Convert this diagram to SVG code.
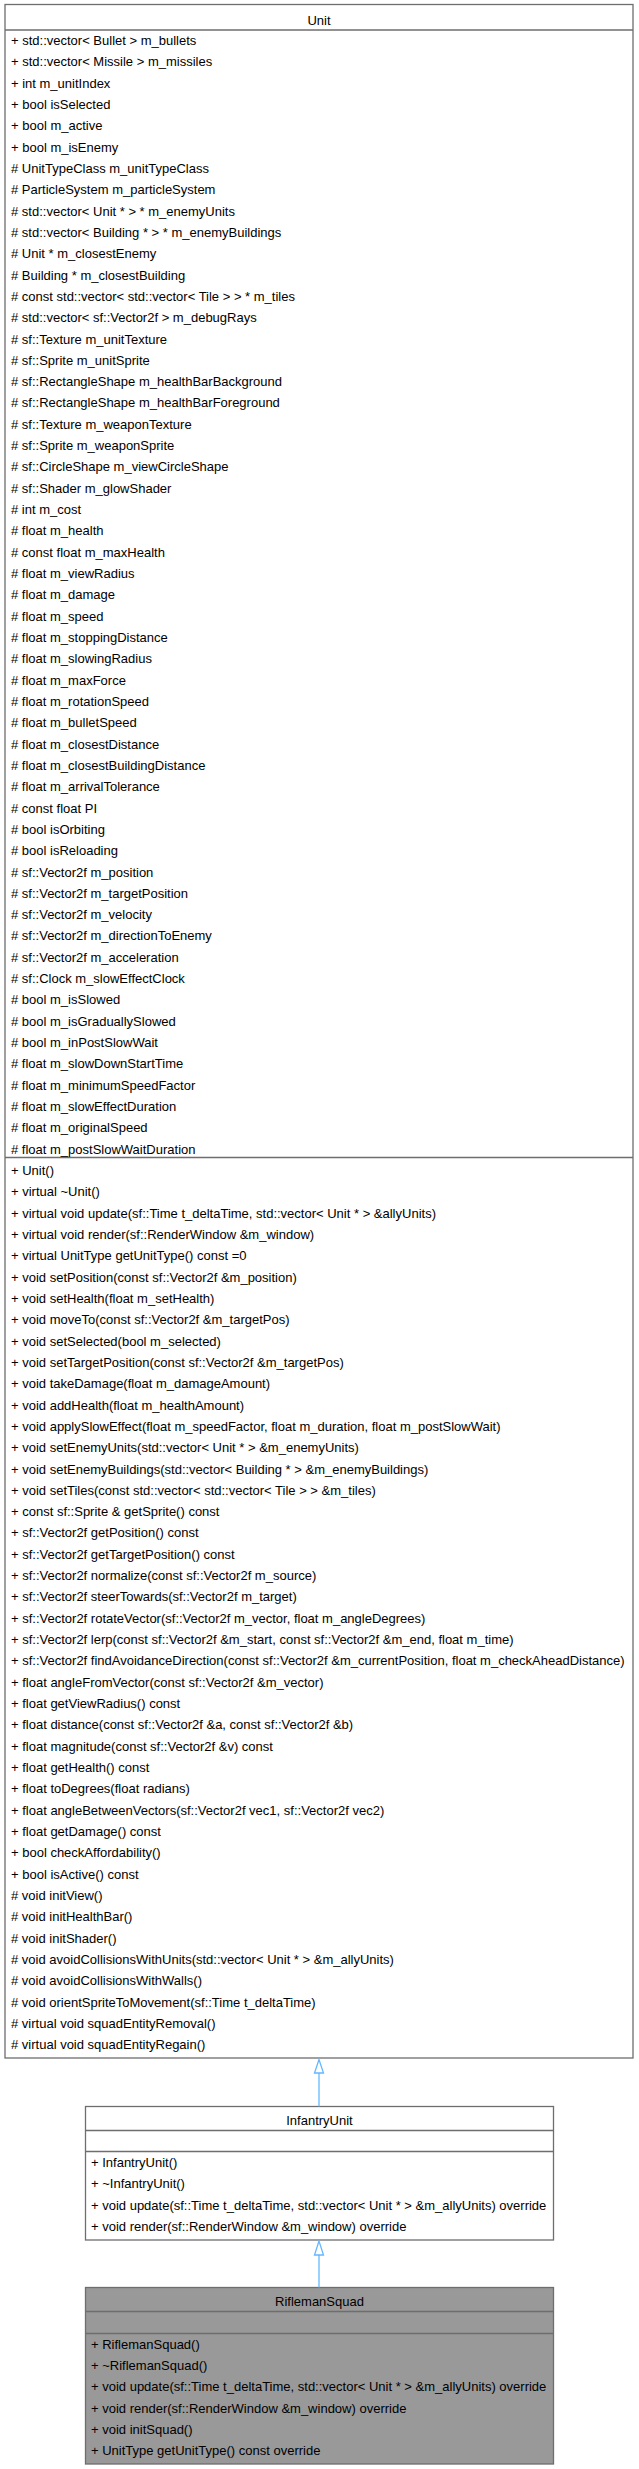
<svg xmlns="http://www.w3.org/2000/svg" width="639" height="2469" viewBox="0 0 639 2469">
<style>
.bg{fill:#ffffff}
.box{fill:#ffffff;stroke:#6e6e6e;stroke-width:1.3}
.cur{fill:#999999;stroke:#6e6e6e;stroke-width:1.3}
.sep{stroke:#6e6e6e;stroke-width:1.3;fill:none}
.t{font-family:"Liberation Sans",Arial,Helvetica,sans-serif;font-size:13px;fill:#000000}
.title{text-anchor:middle}
.edge{stroke:#63b8ff;stroke-width:1.3;fill:none}
.head{stroke:#63b8ff;stroke-width:1.3;fill:#ffffff}
</style>
<rect class="bg" x="0" y="0" width="639" height="2469"/>
<g id="node-Unit">
<rect class="box" x="5" y="4.5" width="628" height="2053.5"/>
<line class="sep" x1="5" y1="30" x2="633" y2="30"/>
<line class="sep" x1="5" y1="1157.5" x2="633" y2="1157.5"/>
<text class="t title" x="319" y="24.5">Unit</text>
<text class="t">
<tspan x="11" y="45.0">+ std::vector&lt; Bullet &gt; m_bullets</tspan>
<tspan x="11" y="66.3">+ std::vector&lt; Missile &gt; m_missiles</tspan>
<tspan x="11" y="87.6">+ int m_unitIndex</tspan>
<tspan x="11" y="109.0">+ bool isSelected</tspan>
<tspan x="11" y="130.3">+ bool m_active</tspan>
<tspan x="11" y="151.6">+ bool m_isEnemy</tspan>
<tspan x="11" y="172.9"># UnitTypeClass m_unitTypeClass</tspan>
<tspan x="11" y="194.2"># ParticleSystem m_particleSystem</tspan>
<tspan x="11" y="215.6"># std::vector&lt; Unit * &gt; * m_enemyUnits</tspan>
<tspan x="11" y="236.9"># std::vector&lt; Building * &gt; * m_enemyBuildings</tspan>
<tspan x="11" y="258.2"># Unit * m_closestEnemy</tspan>
<tspan x="11" y="279.5"># Building * m_closestBuilding</tspan>
<tspan x="11" y="300.8"># const std::vector&lt; std::vector&lt; Tile &gt; &gt; * m_tiles</tspan>
<tspan x="11" y="322.2"># std::vector&lt; sf::Vector2f &gt; m_debugRays</tspan>
<tspan x="11" y="343.5"># sf::Texture m_unitTexture</tspan>
<tspan x="11" y="364.8"># sf::Sprite m_unitSprite</tspan>
<tspan x="11" y="386.1"># sf::RectangleShape m_healthBarBackground</tspan>
<tspan x="11" y="407.4"># sf::RectangleShape m_healthBarForeground</tspan>
<tspan x="11" y="428.8"># sf::Texture m_weaponTexture</tspan>
<tspan x="11" y="450.1"># sf::Sprite m_weaponSprite</tspan>
<tspan x="11" y="471.4"># sf::CircleShape m_viewCircleShape</tspan>
<tspan x="11" y="492.7"># sf::Shader m_glowShader</tspan>
<tspan x="11" y="514.0"># int m_cost</tspan>
<tspan x="11" y="535.4"># float m_health</tspan>
<tspan x="11" y="556.7"># const float m_maxHealth</tspan>
<tspan x="11" y="578.0"># float m_viewRadius</tspan>
<tspan x="11" y="599.3"># float m_damage</tspan>
<tspan x="11" y="620.6"># float m_speed</tspan>
<tspan x="11" y="642.0"># float m_stoppingDistance</tspan>
<tspan x="11" y="663.3"># float m_slowingRadius</tspan>
<tspan x="11" y="684.6"># float m_maxForce</tspan>
<tspan x="11" y="705.9"># float m_rotationSpeed</tspan>
<tspan x="11" y="727.2"># float m_bulletSpeed</tspan>
<tspan x="11" y="748.6"># float m_closestDistance</tspan>
<tspan x="11" y="769.9"># float m_closestBuildingDistance</tspan>
<tspan x="11" y="791.2"># float m_arrivalTolerance</tspan>
<tspan x="11" y="812.5"># const float PI</tspan>
<tspan x="11" y="833.8"># bool isOrbiting</tspan>
<tspan x="11" y="855.2"># bool isReloading</tspan>
<tspan x="11" y="876.5"># sf::Vector2f m_position</tspan>
<tspan x="11" y="897.8"># sf::Vector2f m_targetPosition</tspan>
<tspan x="11" y="919.1"># sf::Vector2f m_velocity</tspan>
<tspan x="11" y="940.4"># sf::Vector2f m_directionToEnemy</tspan>
<tspan x="11" y="961.8"># sf::Vector2f m_acceleration</tspan>
<tspan x="11" y="983.1"># sf::Clock m_slowEffectClock</tspan>
<tspan x="11" y="1004.4"># bool m_isSlowed</tspan>
<tspan x="11" y="1025.7"># bool m_isGraduallySlowed</tspan>
<tspan x="11" y="1047.0"># bool m_inPostSlowWait</tspan>
<tspan x="11" y="1068.4"># float m_slowDownStartTime</tspan>
<tspan x="11" y="1089.7"># float m_minimumSpeedFactor</tspan>
<tspan x="11" y="1111.0"># float m_slowEffectDuration</tspan>
<tspan x="11" y="1132.3"># float m_originalSpeed</tspan>
<tspan x="11" y="1153.6"># float m_postSlowWaitDuration</tspan>
</text>
<text class="t">
<tspan x="11" y="1175.0">+ Unit()</tspan>
<tspan x="11" y="1196.3">+ virtual ~Unit()</tspan>
<tspan x="11" y="1217.6">+ virtual void update(sf::Time t_deltaTime, std::vector&lt; Unit * &gt; &amp;allyUnits)</tspan>
<tspan x="11" y="1239.0">+ virtual void render(sf::RenderWindow &amp;m_window)</tspan>
<tspan x="11" y="1260.3">+ virtual UnitType getUnitType() const =0</tspan>
<tspan x="11" y="1281.6">+ void setPosition(const sf::Vector2f &amp;m_position)</tspan>
<tspan x="11" y="1302.9">+ void setHealth(float m_setHealth)</tspan>
<tspan x="11" y="1324.2">+ void moveTo(const sf::Vector2f &amp;m_targetPos)</tspan>
<tspan x="11" y="1345.6">+ void setSelected(bool m_selected)</tspan>
<tspan x="11" y="1366.9">+ void setTargetPosition(const sf::Vector2f &amp;m_targetPos)</tspan>
<tspan x="11" y="1388.2">+ void takeDamage(float m_damageAmount)</tspan>
<tspan x="11" y="1409.5">+ void addHealth(float m_healthAmount)</tspan>
<tspan x="11" y="1430.8">+ void applySlowEffect(float m_speedFactor, float m_duration, float m_postSlowWait)</tspan>
<tspan x="11" y="1452.2">+ void setEnemyUnits(std::vector&lt; Unit * &gt; &amp;m_enemyUnits)</tspan>
<tspan x="11" y="1473.5">+ void setEnemyBuildings(std::vector&lt; Building * &gt; &amp;m_enemyBuildings)</tspan>
<tspan x="11" y="1494.8">+ void setTiles(const std::vector&lt; std::vector&lt; Tile &gt; &gt; &amp;m_tiles)</tspan>
<tspan x="11" y="1516.1">+ const sf::Sprite &amp; getSprite() const</tspan>
<tspan x="11" y="1537.4">+ sf::Vector2f getPosition() const</tspan>
<tspan x="11" y="1558.8">+ sf::Vector2f getTargetPosition() const</tspan>
<tspan x="11" y="1580.1">+ sf::Vector2f normalize(const sf::Vector2f m_source)</tspan>
<tspan x="11" y="1601.4">+ sf::Vector2f steerTowards(sf::Vector2f m_target)</tspan>
<tspan x="11" y="1622.7">+ sf::Vector2f rotateVector(sf::Vector2f m_vector, float m_angleDegrees)</tspan>
<tspan x="11" y="1644.0">+ sf::Vector2f lerp(const sf::Vector2f &amp;m_start, const sf::Vector2f &amp;m_end, float m_time)</tspan>
<tspan x="11" y="1665.4">+ sf::Vector2f findAvoidanceDirection(const sf::Vector2f &amp;m_currentPosition, float m_checkAheadDistance)</tspan>
<tspan x="11" y="1686.7">+ float angleFromVector(const sf::Vector2f &amp;m_vector)</tspan>
<tspan x="11" y="1708.0">+ float getViewRadius() const</tspan>
<tspan x="11" y="1729.3">+ float distance(const sf::Vector2f &amp;a, const sf::Vector2f &amp;b)</tspan>
<tspan x="11" y="1750.6">+ float magnitude(const sf::Vector2f &amp;v) const</tspan>
<tspan x="11" y="1772.0">+ float getHealth() const</tspan>
<tspan x="11" y="1793.3">+ float toDegrees(float radians)</tspan>
<tspan x="11" y="1814.6">+ float angleBetweenVectors(sf::Vector2f vec1, sf::Vector2f vec2)</tspan>
<tspan x="11" y="1835.9">+ float getDamage() const</tspan>
<tspan x="11" y="1857.2">+ bool checkAffordability()</tspan>
<tspan x="11" y="1878.6">+ bool isActive() const</tspan>
<tspan x="11" y="1899.9"># void initView()</tspan>
<tspan x="11" y="1921.2"># void initHealthBar()</tspan>
<tspan x="11" y="1942.5"># void initShader()</tspan>
<tspan x="11" y="1963.8"># void avoidCollisionsWithUnits(std::vector&lt; Unit * &gt; &amp;m_allyUnits)</tspan>
<tspan x="11" y="1985.2"># void avoidCollisionsWithWalls()</tspan>
<tspan x="11" y="2006.5"># void orientSpriteToMovement(sf::Time t_deltaTime)</tspan>
<tspan x="11" y="2027.8"># virtual void squadEntityRemoval()</tspan>
<tspan x="11" y="2049.1"># virtual void squadEntityRegain()</tspan>
</text>
</g>
<g id="node-InfantryUnit">
<rect class="box" x="85.5" y="2106.5" width="468" height="133.5"/>
<line class="sep" x1="85.5" y1="2130.5" x2="553.5" y2="2130.5"/>
<line class="sep" x1="85.5" y1="2151.5" x2="553.5" y2="2151.5"/>
<text class="t title" x="319.5" y="2125">InfantryUnit</text>
<text class="t">
<tspan x="91" y="2167">+ InfantryUnit()</tspan>
<tspan x="91" y="2188.3">+ ~InfantryUnit()</tspan>
<tspan x="91" y="2209.6">+ void update(sf::Time t_deltaTime, std::vector&lt; Unit * &gt; &amp;m_allyUnits) override</tspan>
<tspan x="91" y="2231">+ void render(sf::RenderWindow &amp;m_window) override</tspan>
</text>
</g>
<g id="node-RiflemanSquad">
<rect class="cur" x="85.5" y="2287.5" width="468" height="176.5"/>
<line class="sep" x1="85.5" y1="2311.5" x2="553.5" y2="2311.5"/>
<line class="sep" x1="85.5" y1="2333.5" x2="553.5" y2="2333.5"/>
<text class="t title" x="319.5" y="2306">RiflemanSquad</text>
<text class="t">
<tspan x="91" y="2348.6">+ RiflemanSquad()</tspan>
<tspan x="91" y="2370">+ ~RiflemanSquad()</tspan>
<tspan x="91" y="2391.2">+ void update(sf::Time t_deltaTime, std::vector&lt; Unit * &gt; &amp;m_allyUnits) override</tspan>
<tspan x="91" y="2412.5">+ void render(sf::RenderWindow &amp;m_window) override</tspan>
<tspan x="91" y="2433.8">+ void initSquad()</tspan>
<tspan x="91" y="2455.1">+ UnitType getUnitType() const override</tspan>
</text>
</g>
<g id="connectors">
<g id="edge-Unit-InfantryUnit">
<line class="edge" x1="319" y1="2073" x2="319" y2="2106.5"/>
<polygon class="head" points="319,2059.5 314.5,2073 323.5,2073"/>
</g>
<g id="edge-InfantryUnit-RiflemanSquad">
<line class="edge" x1="319" y1="2255" x2="319" y2="2287.5"/>
<polygon class="head" points="319,2241 314.5,2255 323.5,2255"/>
</g>
</g>
</svg>
